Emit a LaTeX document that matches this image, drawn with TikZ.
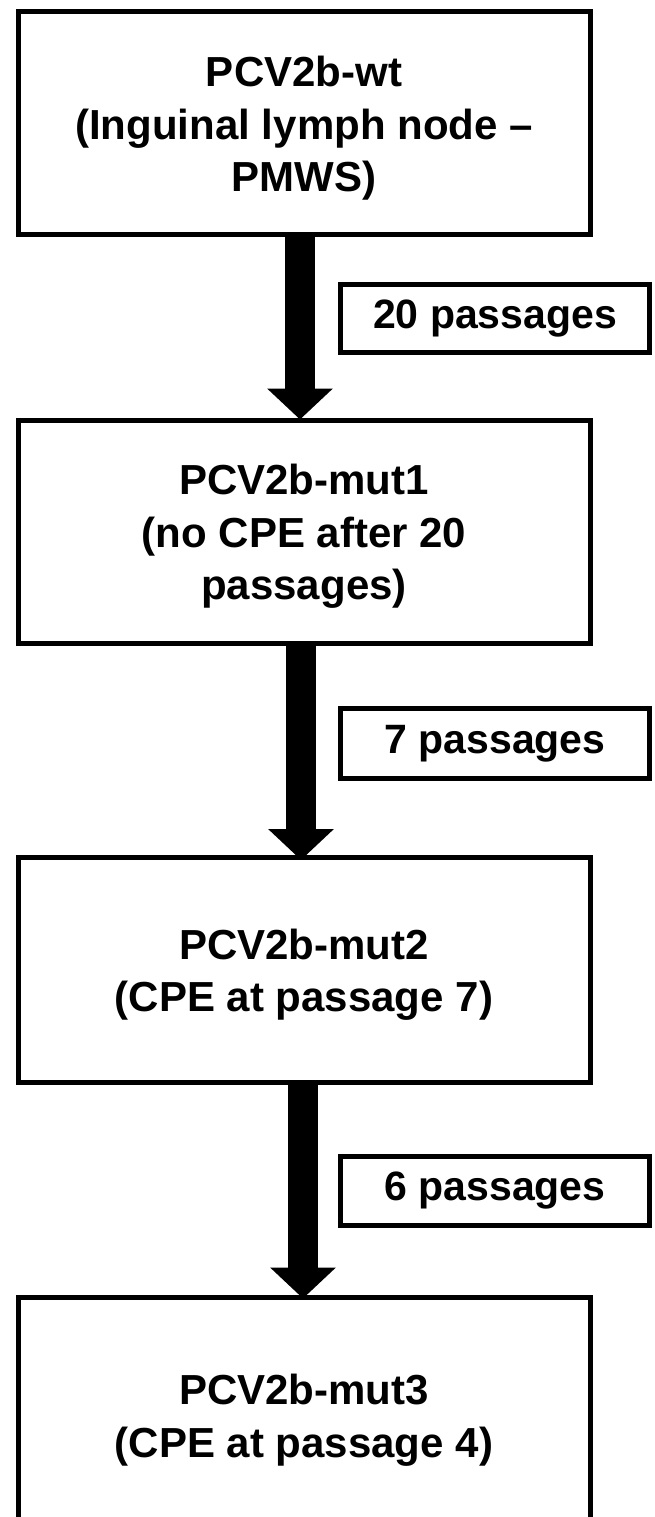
\documentclass[tikz,border=0pt]{standalone}
\usepackage{fontspec}
\setmainfont{Liberation Sans}
\usetikzlibrary{arrows.meta}
\tikzset{
  mainbox/.style={draw, line width=5pt, minimum width=572pt, inner sep=0pt},
  maintext/.style={align=center, inner sep=0pt, font=\bfseries\fontsize{42}{52.5}\selectfont},
  passbox/.style={draw, line width=4.5pt, minimum width=309pt, inner sep=0pt, align=center,
    font=\bfseries\fontsize{41}{48}\selectfont},
  bigarrow/.style={line width=30pt, -{Triangle[width=64pt,length=31pt]}}
}
\begin{document}
\begin{tikzpicture}[x=1pt, y=-1pt]
\path[use as bounding box, clip] (0,0) rectangle (654,1517);
\fill[white] (0,0) rectangle (654,1517);
\node[mainbox, minimum height=222.5pt] (b1) at (304,123.25) {};
\node[maintext, yshift=-5pt] (t1) at (b1.center) {PCV2b-wt\\(Inguinal lymph node --\\PMWS)};
\node[mainbox, minimum height=223pt] (b2) at (304,531.5) {};
\node[maintext, yshift=-5pt] (t2) at (b2.center) {PCV2b-mut1\\(no CPE after 20\\passages)};
\node[mainbox, minimum height=224.5pt] (b3) at (304,969.75) {};
\node[maintext, yshift=-5pt] (t3) at (b3.center) {PCV2b-mut2\\(CPE at passage 7)};
\node[mainbox, minimum height=238pt] (b4) at (304,1416) {};
\node[maintext, yshift=-4pt] (t4) at (b4.center) {PCV2b-mut3\\(CPE at passage 4)};
\node[passbox, minimum height=68pt] (l1) at (495,318.5) {20 passages};
\node[passbox, minimum height=70pt] (l2) at (495,743.5) {7 passages};
\node[passbox, minimum height=69pt] (l3) at (495,1191) {6 passages};
\draw[bigarrow] ([xshift=-4pt]b1.south) -- ([xshift=-4pt,yshift=-2pt]b2.north);
\draw[bigarrow] ([xshift=-3pt]b2.south) -- ([xshift=-3pt,yshift=-5pt]b3.north);
\draw[bigarrow] ([xshift=-1pt]b3.south) -- ([xshift=-1pt,yshift=-4pt]b4.north);
\end{tikzpicture}
\end{document}
